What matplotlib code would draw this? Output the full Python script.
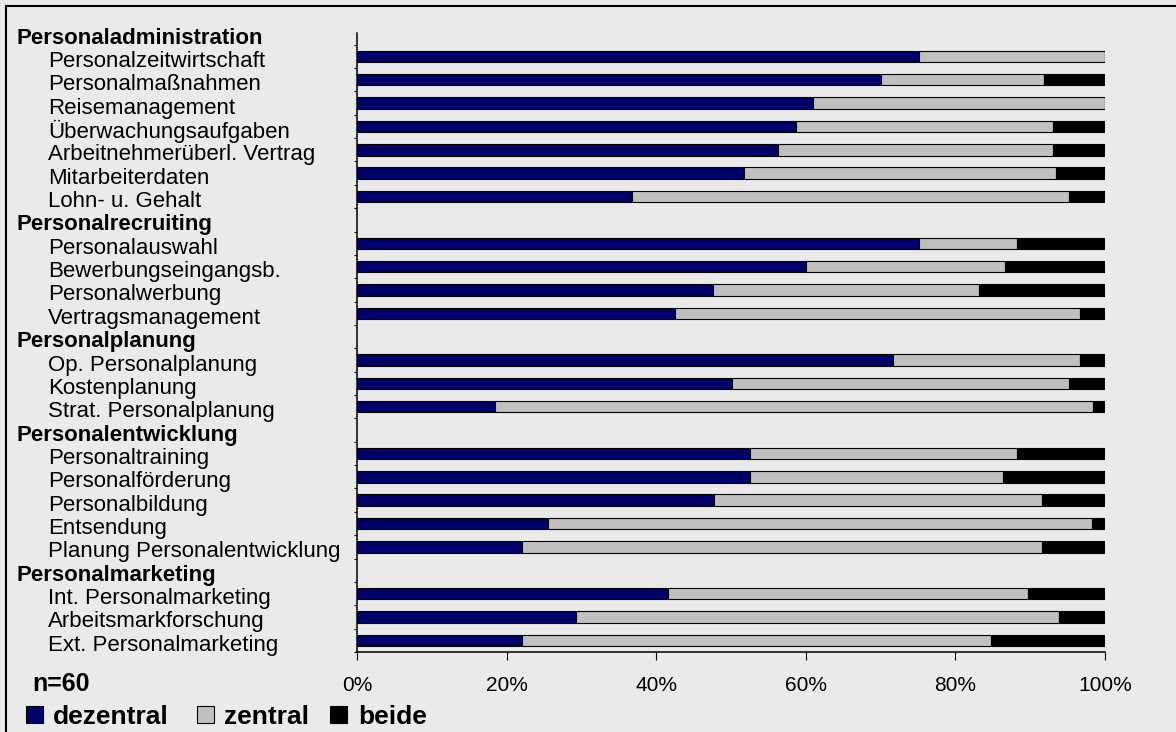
import numpy as np
import matplotlib.pyplot as plt
import matplotlib.transforms as mtransforms
from matplotlib.lines import Line2D
from matplotlib.patches import Rectangle

plt.rcParams['font.family'] = ['Liberation Sans', 'DejaVu Sans']

# Data (shares in %)
groups = ["Personaladministration", "Personalrecruiting", "Personalplanung",
          "Personalentwicklung", "Personalmarketing"]
group_sizes = [7, 4, 3, 5, 3]
items = ["Personalzeitwirtschaft", "Personalmaßnahmen", "Reisemanagement",
         "Überwachungsaufgaben", "Arbeitnehmerüberl. Vertrag", "Mitarbeiterdaten",
         "Lohn- u. Gehalt",
         "Personalauswahl", "Bewerbungseingangsb.", "Personalwerbung",
         "Vertragsmanagement",
         "Op. Personalplanung", "Kostenplanung", "Strat. Personalplanung",
         "Personaltraining", "Personalförderung", "Personalbildung", "Entsendung",
         "Planung Personalentwicklung",
         "Int. Personalmarketing", "Arbeitsmarkforschung", "Ext. Personalmarketing"]
dezentral = [75.2, 70.1, 61.0, 58.7, 56.3, 51.7, 36.8,
             75.2, 60.0, 47.6, 42.5,
             71.7, 50.2, 18.4,
             52.6, 52.6, 47.7, 25.6, 22.1,
             41.6, 29.3, 22.1]
zentral = [24.8, 21.7, 39.0, 34.4, 36.8, 41.7, 58.4,
           13.1, 26.6, 35.5, 54.2,
           25.0, 45.0, 80.0,
           35.6, 33.8, 43.9, 72.7, 69.5,
           48.1, 64.5, 62.6]
beide = [0.0, 8.2, 0.0, 6.9, 6.9, 6.6, 4.8,
         11.7, 13.4, 16.9, 3.3,
         3.3, 4.8, 1.6,
         11.8, 13.6, 8.4, 1.7, 8.4,
         10.3, 6.2, 15.3]
x_ticks = [0, 20, 40, 60, 80, 100]

colors = {'dezentral': '#000066', 'zentral': '#C0C0C0', 'beide': '#000000'}
bg = '#EAEAEA'

# row positions: each group header gets an empty row
header_pos, item_pos = [], []
pos = 0
for n in group_sizes:
    header_pos.append(pos)
    item_pos.extend(range(pos + 1, pos + 1 + n))
    pos += n + 1
n_rows = pos

W, H = 1176, 732
fig = plt.figure(figsize=(W / 100, H / 100), dpi=100, facecolor=bg)
ax = fig.add_axes([357 / W, 1 - 652 / H, 748 / W, 619 / H])
ax.set_facecolor('none')

d = np.array(dezentral)
z = np.array(zentral)
b = np.array(beide)
kw = dict(height=0.49, edgecolor='black', linewidth=0.8)
ax.barh(item_pos, d, color=colors['dezentral'], **kw)
ax.barh(item_pos, z, left=d, color=colors['zentral'], **kw)
ax.barh(item_pos, b, left=d + z, color=colors['beide'], **kw)

ax.set_xlim(0, 100)
ax.set_ylim(n_rows - 0.5, 0)
ax.set_xticks(x_ticks)
ax.set_xticklabels([f'{v}%' for v in x_ticks])
ax.set_yticks(np.arange(0.5, n_rows, 1.0))
ax.set_yticklabels([])
ax.tick_params(axis='x', direction='out', length=5.5, width=0.8, pad=12, labelsize=15)
ax.tick_params(axis='y', direction='out', length=2.5, width=0.8)
for side in ['top', 'right']:
    ax.spines[side].set_visible(False)
for side in ['left', 'bottom']:
    ax.spines[side].set_linewidth(1.1)

# category labels, a bit below the row centres as in the original
trans = mtransforms.blended_transform_factory(fig.transFigure, ax.transData)
trans = trans + mtransforms.ScaledTranslation(0, -0.05, fig.dpi_scale_trans)
for g, p in zip(groups, header_pos):
    fig.text(17 / W, p, g, transform=trans, fontsize=16, fontweight='bold', va='center')
for it, p in zip(items, item_pos):
    fig.text(48 / W, p, it, transform=trans, fontsize=16, va='center')

fig.text(32 / W, 1 - 684 / H, 'n=60', fontsize=18, fontweight='bold', va='center')

# legend
legend_items = [('dezentral', 26, 53), ('zentral', 197, 224), ('beide', 330, 358)]
for name, sx, tx in legend_items:
    fig.patches.append(Rectangle((sx / W, 1 - 723 / H), 17 / W, 17 / H,
                                 transform=fig.transFigure, facecolor=colors[name],
                                 edgecolor='black', linewidth=0.8))
    fig.text(tx / W, 1 - 724 / H, name, fontsize=19, fontweight='bold', va='baseline')

# outer frame (only top and left visible in the crop)
fig.lines.append(Line2D([6 / W, 6 / W], [0, 1 - 6 / H], transform=fig.transFigure,
                        color='black', linewidth=1.5))
fig.lines.append(Line2D([6 / W, 1], [1 - 6 / H, 1 - 6 / H], transform=fig.transFigure,
                        color='black', linewidth=1.5))

fig.savefig('out.png', dpi=100, facecolor=fig.get_facecolor())
